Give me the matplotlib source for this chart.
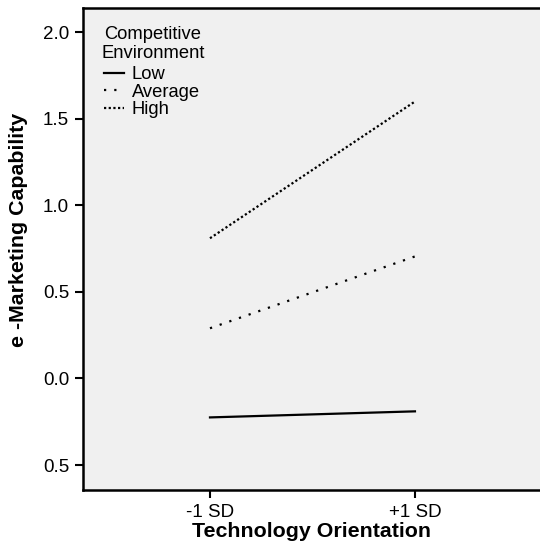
import matplotlib
matplotlib.use("Agg")
import matplotlib.pyplot as plt

plt.rcParams['font.family'] = ['Liberation Sans', 'DejaVu Sans']

# Dati
x_pos = [-1, 1]
x_labels = ['-1 SD', '+1 SD']
low = [-0.225, -0.19]
average = [0.29, 0.705]
high = [0.81, 1.60]

y_ticks = [2.0, 1.5, 1.0, 0.5, 0.0, -0.5]
y_tick_labels = ['2.0', '1.5', '1.0', '0.5', '0.0', '0.5']

fig = plt.figure(figsize=(5.4, 5.47), dpi=100)
ax = fig.add_axes([0.1537, 0.104, 0.8463, 0.881])
ax.set_facecolor('#f0f0f0')

ax.plot(x_pos, low, color='black', lw=1.6, linestyle='-', label='Low')
ax.plot(x_pos, average, color='black', lw=1.6, linestyle=(0, (1, 3.6)), label='Average')
ax.plot(x_pos, high, color='black', lw=1.6, linestyle=(0, (1, 1.1)), label='High')

ax.set_xlim(-2.239, 2.22)
ax.set_ylim(-0.645, 2.139)
ax.set_xticks(x_pos)
ax.set_xticklabels(x_labels)
ax.set_yticks(y_ticks)
ax.set_yticklabels(y_tick_labels)

for s in ['left', 'bottom', 'top']:
    ax.spines[s].set_linewidth(1.8)
ax.spines['right'].set_visible(False)
ax.tick_params(axis='both', direction='out', length=6, width=1.5, labelsize=13.5, pad=4)

ax.set_xlabel('Technology Orientation', fontsize=15.4, fontweight='bold', labelpad=1)
fig.text(18.5 / 540, 1 - 230 / 547, 'e -Marketing Capability', rotation=90,
         fontsize=15.4, fontweight='bold', ha='center', va='center')

# titolo della legenda come testo separato (spaziatura come nell'originale)
ax.text((153 - 83) / 457, (490 - 26) / 482, 'Competitive\nEnvironment',
        transform=ax.transAxes, ha='center', va='top', fontsize=13.2, linespacing=1.12)

leg = ax.legend(loc='upper left', frameon=False,
                fontsize=13.2, handlelength=1.1, handletextpad=0.4,
                labelspacing=0.02, borderpad=0, borderaxespad=0,
                bbox_to_anchor=((104 - 83) / 457, (490 - 66) / 482))

fig.savefig('out.png', dpi=100)
